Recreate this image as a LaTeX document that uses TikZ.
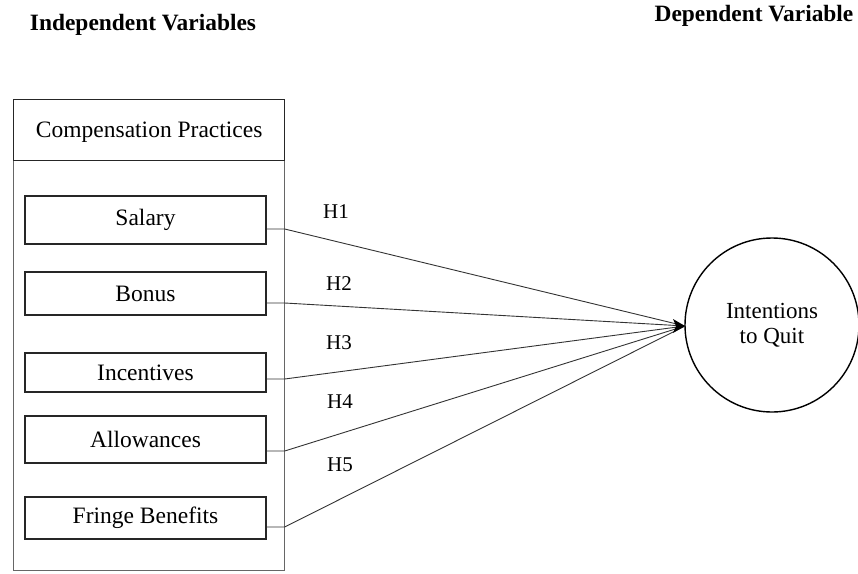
\documentclass[tikz,border=0pt]{standalone}
\usepackage{fontspec}
\setmainfont{Liberation Serif}
\usetikzlibrary{arrows.meta}
\begin{document}
\begin{tikzpicture}[x=1pt,y=-1pt,
  varbox/.style={draw=black!85,line width=1.4pt,minimum width=241pt,inner sep=0pt,font=\fontsize{23.5}{26}\selectfont},
  link/.style={draw=black!80,line width=0.9pt},
  hlab/.style={font=\fontsize{21}{24}\selectfont},
  head/.style={font=\bfseries\fontsize{23.4}{26}\selectfont}]
\useasboundingbox (0,0) rectangle (858,573);
% outer frame
\draw[draw=black!60,line width=1pt] (13,99) rectangle (284,570);
\node[draw=black!85,line width=1.4pt,minimum width=271pt,minimum height=61pt,inner sep=0pt,anchor=north west,font=\fontsize{23.5}{26}\selectfont,text depth=0pt] (cp) at (13,99) {Compensation Practices};
\node[head] (iv) at (143,25) {Independent Variables};
\node[head] (dv) at (754,16) {Dependent Variable};
% variable boxes
\node[varbox,minimum height=48pt] (sal) at (145.5,220) {Salary};
\node[varbox,minimum height=43pt] (bon) at (145.5,293.5) {Bonus};
\node[varbox,minimum height=39pt] (inc) at (145.5,372.5) {Incentives};
\node[varbox,minimum height=47pt] (all) at (145.5,439.5) {Allowances};
\node[varbox,minimum height=42pt] (fri) at (145.5,518) {Fringe Benefits};
% outcome
\node[draw=black,line width=1.4pt,circle,minimum size=174pt,inner sep=0pt,align=center,font=\fontsize{23}{25}\selectfont] (itq) at (772,325) {Intentions\\to Quit};
\coordinate (tip) at (685,326);
% connectors
\draw[link] ([yshift=-9pt]sal.east) -- ++(18,0) -- (tip);
\draw[link] ([yshift=-9.5pt]bon.east) -- ++(18,0) -- (tip);
\draw[link] ([yshift=-6.5pt]inc.east) -- ++(18,0) -- (tip);
\draw[link] ([yshift=-11.5pt]all.east) -- ++(18,0) -- (tip);
\draw[link] ([yshift=-9pt]fri.east) -- ++(18,0) -- (tip);
\fill (tip) -- ++(-12,-7) -- ++(3,7) -- ++(-3,7) -- cycle;
% labels
\node[hlab] (h1) at (336,212) {H1};
\node[hlab] (h2) at (339,284) {H2};
\node[hlab] (h3) at (339,343) {H3};
\node[hlab] (h4) at (340,402) {H4};
\node[hlab] (h5) at (340,465) {H5};
\end{tikzpicture}
\end{document}
